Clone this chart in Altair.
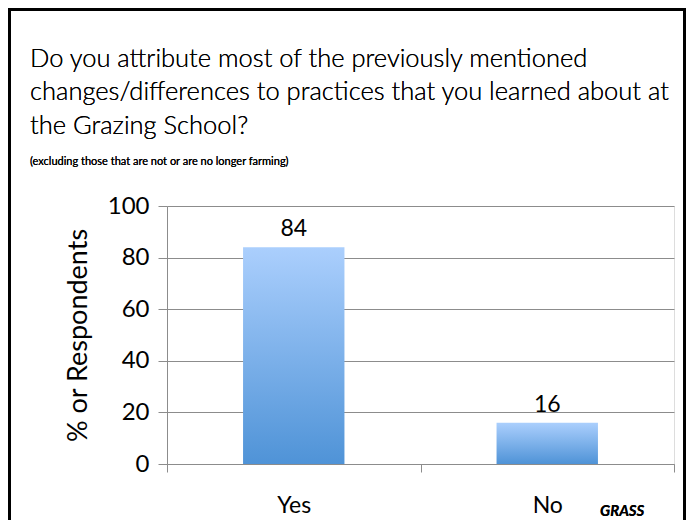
import altair as alt
import pandas as pd

categories = ["Yes", "No"]
values = [84, 16]
y_ticks = [0, 20, 40, 60, 80, 100]

title_lines = [
    "Do you attribute most of the previously mentioned",
    "changes/differences to practices that you learned about at",
    "the Grazing School?",
]
subtitle = "(excluding those that are not or are no longer farming)"
y_title = "% or Respondents"

df = pd.DataFrame({"answer": categories, "pct": values})

FONT = "Lato"
W, H = 507, 258
PAD = {"left": 159, "top": 198, "right": 12, "bottom": 56}

grad = alt.Gradient(
    gradient="linear",
    stops=[
        alt.GradientStop(color="#abcffd", offset=0),
        alt.GradientStop(color="#4f93d7", offset=1),
    ],
    x1=0, x2=0, y1=0, y2=1,
)

x_enc = alt.X(
    "answer:N",
    sort=categories,
    scale=alt.Scale(paddingInner=0, paddingOuter=0),
    axis=alt.Axis(
        title=None, labelAngle=0, labelFontSize=23, labelFont=FONT,
        labelColor="black", labelPadding=22, tickBand="extent", tickSize=8,
        tickColor="#8c8c8c", domainColor="#8c8c8c", grid=False,
    ),
)
y_enc = alt.Y(
    "pct:Q",
    scale=alt.Scale(domain=[0, 100]),
    axis=alt.Axis(
        title=y_title, values=y_ticks, labelFontSize=24, labelFont=FONT,
        labelColor="black", labelPadding=9, tickSize=9, tickColor="#8c8c8c",
        domainColor="#8c8c8c", gridColor="#8c8c8c", titleFontSize=27,
        titleFont=FONT, titleFontWeight="normal", titleColor="black",
        titlePadding=15,
    ),
)

bars = alt.Chart(df).mark_bar(color=grad, width=alt.RelativeBandSize(0.4)).encode(
    x=x_enc, y=y_enc
)
labels = alt.Chart(df).mark_text(
    baseline="alphabetic", dy=-11, fontSize=23, font=FONT, color="black"
).encode(x=alt.X("answer:N", sort=categories), y="pct:Q", text="pct:Q")

title_ys = [-139, -106, -72]
title_marks = [
    alt.Chart(df).mark_text(
        text=line, align="left", baseline="alphabetic", font=FONT, fontSize=25.5,
        fontWeight=300, color="black",
    ).encode(x=alt.value(-137), y=alt.value(ty))
    for line, ty in zip(title_lines, title_ys)
]

sub_mark = alt.Chart(df).mark_text(
    text=subtitle, align="left", baseline="alphabetic", font=FONT, fontSize=11,
    color="black",
).encode(x=alt.value(-137), y=alt.value(-41))

border = alt.Chart(df).mark_rect(
    fill=None, stroke="black", strokeWidth=3, filled=False
).encode(
    x=alt.value(-PAD["left"] + 1.5), x2=alt.value(W + PAD["right"] - 1.5),
    y=alt.value(-PAD["top"] + 1.5), y2=alt.value(H + PAD["bottom"] + 10),
)

logo = alt.Chart(df).mark_text(
    text="GRASS", font=FONT, fontSize=15, fontWeight="bold", fontStyle="italic",
    align="left", baseline="alphabetic", color="black",
).encode(x=alt.value(600 - 167), y=alt.value(516 - 206))

chart = alt.layer(bars, labels, *title_marks, sub_mark, border, logo).properties(
    width=W,
    height=H,
    padding=PAD,
    autosize=alt.AutoSizeParams(type="none"),
).configure_view(stroke=None).configure(background="white")

chart.save("out.html", embed_options={"renderer": "svg", "actions": False})
